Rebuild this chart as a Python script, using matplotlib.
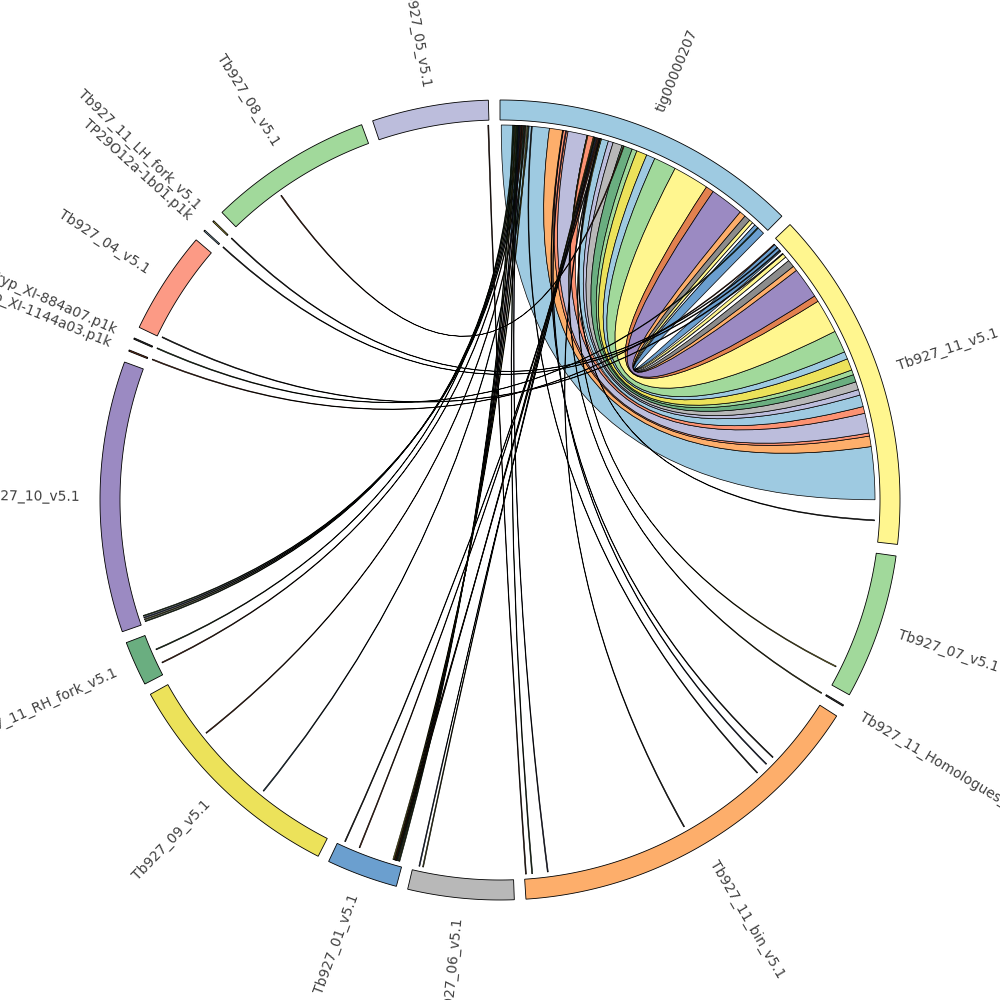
import numpy as np
import matplotlib.pyplot as plt
from matplotlib.path import Path
from matplotlib.patches import PathPatch

# segments, clockwise from the top (lengths in Mb)
seg_names = ["tig00000207", "Tb927_11_v5.1", "Tb927_07_v5.1", "Tb927_11_Homologues_v5.1",
             "Tb927_11_bin_v5.1", "Tb927_06_v5.1", "Tb927_01_v5.1", "Tb927_09_v5.1",
             "Tb927_11_RH_fork_v5.1", "Tb927_10_v5.1", "Tryp_XI-1144a03.p1k", "Tryp_XI-884a07.p1k",
             "Tb927_04_v5.1", "TP29O12a-1b01.p1k", "Tb927_11_LH_fork_v5.1", "Tb927_08_v5.1",
             "Tb927_05_v5.1"]
seg_sizes = [4.667, 5.198, 2.198, 0.02, 5.583, 1.604, 1.078, 3.531, 0.677, 4.104,
             0.02, 0.02, 1.5625, 0.02, 0.02, 2.479, 1.760]
seg_colors = ["#9ecae1", "#fff68f", "#a1d99b", "#444444", "#fdae6b", "#b8b8b8", "#6b9fcf",
              "#ece25a", "#6aae80", "#9b8ac2", "#8b3a1a", "#333333", "#fc9a85", "#9ecae1",
              "#e0d040", "#a1d99b", "#bcbddc"]

# ribbons tig00000207 -> Tb927_11_v5.1 (Mb inside each segment)
rib_tig_start = [0.02, 0.79, 1.01, 1.09, 1.40, 1.61, 1.75, 1.83, 1.98, 2.15, 2.23,
                 2.40, 2.54, 2.90, 3.48, 3.61, 4.15, 4.25, 4.35, 4.41, 4.46]
rib_tig_end = [0.79, 1.01, 1.09, 1.40, 1.53, 1.75, 1.83, 1.98, 2.15, 2.23, 2.40,
               2.54, 2.90, 3.48, 3.61, 4.15, 4.25, 4.35, 4.41, 4.46, 4.65]
rib_tb11_start = [3.68, 3.51, 3.46, 3.14, 3.03, 2.84, 2.75, 2.62, 2.50, 2.42, 2.23,
                  2.11, 1.75, 1.20, 1.10, 0.60, 0.52, 0.40, 0.26, 0.33, 0.06]
rib_tb11_end = [4.53, 3.68, 3.51, 3.46, 3.14, 3.03, 2.84, 2.75, 2.62, 2.50, 2.42,
                2.23, 2.11, 1.75, 1.20, 1.10, 0.60, 0.52, 0.33, 0.40, 0.21]
rib_colors = ["#9ecae1", "#fdae6b", "#fc9272", "#bcbddc", "#fc9272", "#9ecae1", "#bcbddc",
              "#b8b8b8", "#6aae80", "#a1d99b", "#ece25a", "#9ecae1", "#a1d99b", "#fff68f",
              "#e2814f", "#9b8ac2", "#fdae6b", "#8c8c8c", "#fff68f", "#ffffff", "#6b9fcf"]

# thin links between other segments
link_seg_a = ["Tb927_10_v5.1"] * 4 + ["Tb927_11_RH_fork_v5.1"] * 2 + ["Tb927_09_v5.1"] * 2 \
    + ["Tb927_01_v5.1"] * 10 + ["Tb927_06_v5.1"] * 2 + ["Tb927_11_bin_v5.1"] * 6 \
    + ["Tb927_07_v5.1", "Tb927_11_Homologues_v5.1", "Tb927_11_v5.1", "Tb927_08_v5.1",
       "Tb927_11_LH_fork_v5.1", "TP29O12a-1b01.p1k", "Tb927_04_v5.1", "Tryp_XI-884a07.p1k",
       "Tryp_XI-1144a03.p1k", "tig00000207"]
link_pos_a = [0.03, 0.06, 0.09, 0.12, 0.40, 0.17, 2.55, 1.25,
              0.05, 0.07, 0.09, 0.11, 0.13, 0.15, 0.10, 0.12, 0.72, 0.97,
              1.44, 1.50, 5.55, 5.20, 5.45, 1.10, 1.25, 1.45,
              1.90, 0.01, 4.85, 0.86, 0.01, 0.01, 0.01, 0.01, 0.01, 1.60]
link_seg_b = ["tig00000207"] * 20 + ["Tb927_05_v5.1"] + ["tig00000207"] * 9 \
    + ["Tb927_11_v5.1"] * 3 + ["tig00000207", "Tb927_11_v5.1", "Tb927_11_bin_v5.1"]
link_pos_b = [0.25, 0.28, 0.31, 0.34, 0.22, 0.36, 0.40, 0.45,
              0.20, 0.24, 0.29, 0.33, 0.38, 0.43, 1.52, 1.56, 1.58, 1.62,
              1.50, 1.54, 1.74, 0.30, 0.27, 1.00, 1.05, 0.50,
              1.62, 1.40, 1.60, 2.00, 0.12, 0.18, 0.25, 4.52, 0.05, 2.90]
link_colors = ["#2d5a27", "#7a7a2a", "#3b4f8a", "#2d5a27", "#2d5a27", "#8b3a1a", "#8b3a1a",
               "#3b6a8a", "#2d5a27", "#7a7a2a", "#3b4f8a", "#8b3a1a", "#2d5a27", "#e0d040",
               "#2d5a27", "#8b3a1a", "#8b3a1a", "#333333", "#7a7a2a", "#3b4f8a", "#5a2a1a",
               "#3b3b6a", "#2d5a27", "#333333", "#3b4f8a", "#333333", "#e0d040", "#7a7a2a",
               "#333333", "#8b3a1a", "#333333", "#333333", "#333333", "#2d5a27", "#8b3a1a",
               "#333333"]

R_OUT, R_IN, R_LINK, R_LABEL = 400, 380, 375, 420
GAP = 1.67
LINK_W = 0.015


def pol(theta, r):
    # angle in degrees clockwise from the top
    t = np.radians(theta)
    return r * np.sin(t), r * np.cos(t)


def ribbon(a1, a2, b1, b2, r=R_LINK):
    verts, codes = [pol(a1, r)], [Path.MOVETO]
    for a in np.linspace(a1, a2, 30)[1:]:
        verts.append(pol(a, r))
        codes.append(Path.LINETO)
    verts += [(0, 0), pol(b1, r)]
    codes += [Path.CURVE3, Path.CURVE3]
    for b in np.linspace(b1, b2, 30)[1:]:
        verts.append(pol(b, r))
        codes.append(Path.LINETO)
    verts += [(0, 0), pol(a1, r), pol(a1, r)]
    codes += [Path.CURVE3, Path.CURVE3, Path.CLOSEPOLY]
    return Path(verts, codes)


scale = (360 - GAP * len(seg_sizes)) / sum(seg_sizes)
seg_start = {}
pos = 0.0
for name, size in zip(seg_names, seg_sizes):
    seg_start[name] = pos
    pos += size * scale + GAP


def angle(name, mb):
    return seg_start[name] + mb * scale


fig = plt.figure(figsize=(10, 10), dpi=100)
ax = fig.add_axes([0, 0, 1, 1])
ax.set_xlim(-500, 500)
ax.set_ylim(-500, 500)
ax.set_aspect("equal")
ax.axis("off")

# outer segments and labels
for name, size, color in zip(seg_names, seg_sizes, seg_colors):
    a0 = seg_start[name]
    a1 = a0 + size * scale
    th = np.linspace(a0, a1, 100)
    outer = [pol(t, R_OUT) for t in th]
    inner = [pol(t, R_IN) for t in th[::-1]]
    ax.add_patch(plt.Polygon(outer + inner, closed=True, facecolor=color,
                             edgecolor="black", linewidth=0.6))
    mid = (a0 + a1) / 2
    x, y = pol(mid, R_LABEL)
    if mid < 180:
        rot, ha = 90 - mid, "left"
    else:
        rot, ha = 270 - mid, "right"
    ax.text(x, y, name, rotation=rot, ha=ha, va="center", rotation_mode="anchor",
            fontsize=10, color="#404040")

# big ribbons
for i in range(len(rib_colors)):
    p = ribbon(angle("tig00000207", rib_tig_start[i]), angle("tig00000207", rib_tig_end[i]),
               angle("Tb927_11_v5.1", rib_tb11_start[i]), angle("Tb927_11_v5.1", rib_tb11_end[i]))
    ax.add_patch(PathPatch(p, facecolor=rib_colors[i], edgecolor="black", linewidth=0.5))

# thin links on top
for i in range(len(link_colors)):
    a = angle(link_seg_a[i], link_pos_a[i])
    b = angle(link_seg_b[i], link_pos_b[i])
    p = ribbon(a, a + LINK_W * scale, b, b + LINK_W * scale)
    ax.add_patch(PathPatch(p, facecolor=link_colors[i], edgecolor="black", linewidth=0.45))

fig.savefig("out.png", dpi=100)
